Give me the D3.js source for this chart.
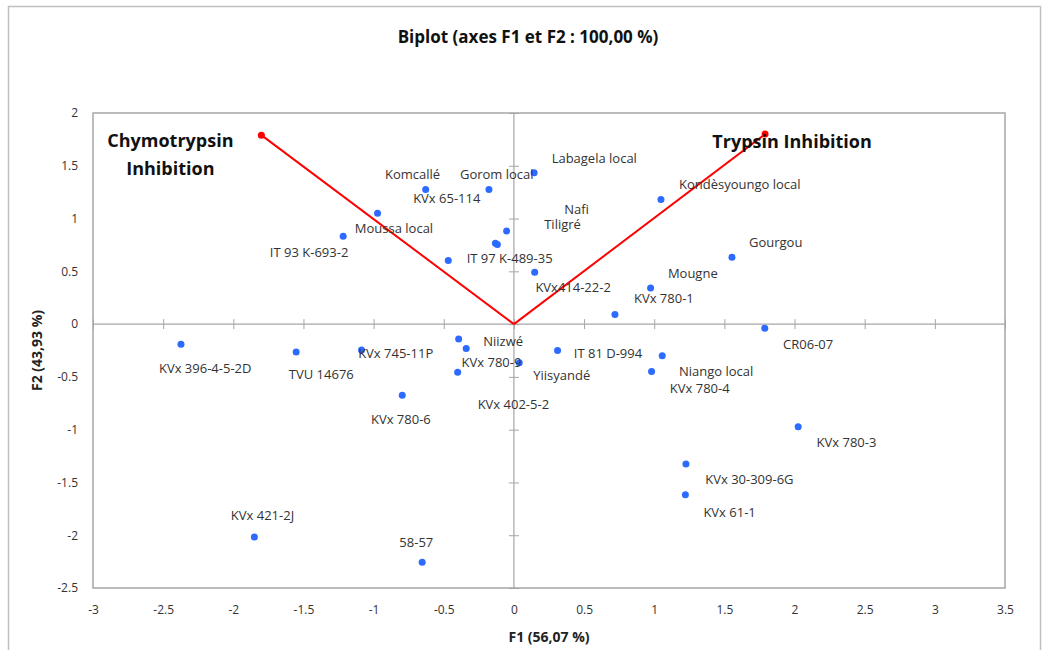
<!DOCTYPE html>
<html><head><meta charset="utf-8">
<script src="https://cdn.jsdelivr.net/npm/d3@7"></script>
<style>
body{margin:0;background:#fff;}
svg{display:block;}
</style></head>
<body>
<svg id="chart" width="1049" height="650"></svg>
<script>
// ---- data ----
const names = ["Komcallé","Gorom local","KVx 65-114","Moussa local","IT 93 K-693-2","IT 97 K-489-35","Nafi","Tiligré","KVx414-22-2","Labagela local",
  "Kondèsyoungo local","Gourgou","Mougne","KVx 780-1","CR06-07",
  "KVx 396-4-5-2D","TVU 14676","KVx 745-11P","Niizwé","KVx 780-9","KVx 402-5-2","KVx 780-6","Yiisyandé",
  "IT 81 D-994","Niango local","KVx 780-4","KVx 780-3","KVx 30-309-6G","KVx 61-1","KVx 421-2J","58-57"];
const f1 = [-0.629,-0.178,-0.118,-0.972,-1.217,-0.468,-0.052,-0.132,0.148,0.144,
  1.048,1.554,0.974,0.720,1.788,
  -2.373,-1.552,-1.086,-0.394,-0.340,-0.401,-0.796,0.038,
  0.311,1.057,0.981,2.026,1.226,1.222,-1.850,-0.654];
const f2 = [1.275,1.275,0.755,1.051,0.833,0.602,0.881,0.765,0.492,1.433,
  1.180,0.634,0.343,0.090,-0.039,
  -0.191,-0.264,-0.245,-0.140,-0.232,-0.456,-0.674,-0.365,
  -0.251,-0.299,-0.450,-0.972,-1.325,-1.616,-2.017,-2.257];
const varNames = ["Chymotrypsin Inhibition","Trypsin Inhibition"];
const varF1 = [-1.80, 1.79];
const varF2 = [1.79, 1.80];
const xTicks = [-3,-2.5,-2,-1.5,-1,-0.5,0,0.5,1,1.5,2,2.5,3,3.5];
const yTicks = [-2.5,-2,-1.5,-1,-0.5,0,0.5,1,1.5,2];

// ---- label layout (pixel offsets from each point) ----
const labelDX = [-40.7,-29,-84.2,-22.7,-73.3,18.4,57.6,48.8,0.7,17.5,
  18,17,17.3,19,18.3,
  -22,-7.3,-3.4,24.6,-4.6,20,-31.3,14,
  16.3,16.7,18.3,18.4,19.3,18,-23.5,-22.8];
const labelDY = [-10.4,-10.4,-41.2,20.3,20.7,2.3,-17,-13.9,20.3,-9.4,
  -10.4,-9.7,-10.4,-11.4,20.3,
  28.3,26.6,8.3,7,18.3,37,29,17.6,
  6.9,20.3,20.9,20.3,19.6,22.3,-16.7,-15.3];

const svg = d3.select("#chart");
const L = 93, R = 1005, T = 113, B = 588;
const x = d3.scaleLinear().domain([-3, 3.5]).range([L, R]);
const y = d3.scaleLinear().domain([-2.5, 2]).range([B, T]);
const gray = "#a6a6a6";
const font = "'Open Sans', sans-serif";

// outer frame
svg.append("rect").attr("x",8.5).attr("y",6.5).attr("width",1032).attr("height",700)
  .attr("fill","none").attr("stroke","#c0c0c0").attr("stroke-width",1.5);

// title
svg.append("text").attr("x",528).attr("y",43).attr("text-anchor","middle")
  .attr("font-family",font).attr("font-weight","bold").attr("font-size",17).attr("fill","#111")
  .text("Biplot (axes F1 et F2 : 100,00 %)");

// plot frame
svg.append("rect").attr("x",L).attr("y",T).attr("width",R-L).attr("height",B-T)
  .attr("fill","none").attr("stroke",gray).attr("stroke-width",1.5);

// zero axes lines with crossing ticks
const xAx = svg.append("g").attr("transform",`translate(0,${y(0)-5})`)
  .call(d3.axisBottom(x).tickValues(xTicks).tickSize(10).tickFormat(""));
xAx.select(".domain").remove();
xAx.selectAll("line").attr("stroke",gray);
const yAx = svg.append("g").attr("transform",`translate(${x(0)+5},0)`)
  .call(d3.axisLeft(y).tickValues(yTicks).tickSize(10).tickFormat(""));
yAx.select(".domain").remove();
yAx.selectAll("line").attr("stroke",gray);
svg.append("line").attr("x1",L).attr("x2",R).attr("y1",y(0)).attr("y2",y(0)).attr("stroke",gray).attr("stroke-width",1.2);
svg.append("line").attr("x1",x(0)).attr("x2",x(0)).attr("y1",T).attr("y2",B).attr("stroke",gray).attr("stroke-width",1.2);

// tick labels
const xLab = svg.append("g").attr("transform",`translate(0,${B+14})`)
  .call(d3.axisBottom(x).tickValues(xTicks).tickSize(0).tickFormat(d=>String(d)));
xLab.select(".domain").remove();
xLab.selectAll("text").attr("font-family",font).attr("font-size",12).attr("fill","#333");
const yLab = svg.append("g").attr("transform",`translate(${L-12},0)`)
  .call(d3.axisLeft(y).tickValues(yTicks).tickSize(0).tickFormat(d=>String(d)));
yLab.select(".domain").remove();
yLab.selectAll("text").attr("font-family",font).attr("font-size",12).attr("fill","#333");

// axis titles
svg.append("text").attr("x",(L+R)/2).attr("y",642).attr("text-anchor","middle")
  .attr("font-family",font).attr("font-weight","bold").attr("font-size",14).attr("fill","#222")
  .text("F1 (56,07 %)");
svg.append("text").attr("transform",`translate(42,${(T+B)/2}) rotate(-90)`).attr("text-anchor","middle")
  .attr("font-family",font).attr("font-weight","bold").attr("font-size",14).attr("fill","#222")
  .text("F2 (43,93 %)");

// variable vectors
const vars = varNames.map((n,i)=>({n, a:varF1[i], b:varF2[i]}));
svg.append("g").selectAll("line").data(vars).join("line")
  .attr("x1",x(0)).attr("y1",y(0)).attr("x2",d=>x(d.a)).attr("y2",d=>y(d.b))
  .attr("stroke","#ff0000").attr("stroke-width",2);
svg.append("g").selectAll("circle").data(vars).join("circle")
  .attr("cx",d=>x(d.a)).attr("cy",d=>y(d.b)).attr("r",3.5).attr("fill","#ff0000");

// variable labels
const vl = svg.append("g").attr("font-family",font).attr("font-weight","bold").attr("font-size",18).attr("fill","#111");
vl.append("text").attr("x",x(varF1[0])-91).attr("y",y(varF2[0])+12).attr("text-anchor","middle").text("Chymotrypsin");
vl.append("text").attr("x",x(varF1[0])-91).attr("y",y(varF2[0])+40).attr("text-anchor","middle").text("Inhibition");
vl.append("text").attr("x",x(varF1[1])+27).attr("y",y(varF2[1])+14).attr("text-anchor","middle").text("Trypsin Inhibition");

// observations
const obs = names.map((n,i)=>({n, a:f1[i], b:f2[i], dx:labelDX[i], dy:labelDY[i]}));
svg.append("g").selectAll("circle").data(obs).join("circle")
  .attr("cx",d=>x(d.a)).attr("cy",d=>y(d.b)).attr("r",3.5).attr("fill","#2d6bff");
svg.append("g").selectAll("text").data(obs).join("text")
  .attr("x",d=>x(d.a)+d.dx).attr("y",d=>y(d.b)+d.dy)
  .attr("font-family",font).attr("font-size",13).attr("fill","#333")
  .text(d=>d.n);
</script>
</body></html>
